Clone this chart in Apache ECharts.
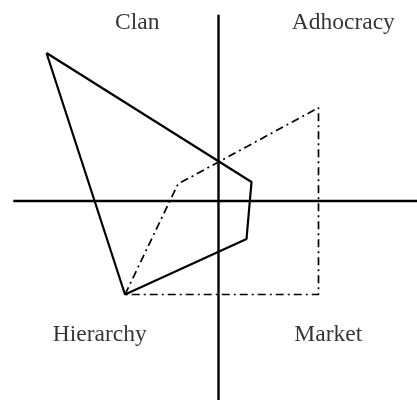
<!DOCTYPE html>
<html>
<head>
<meta charset="utf-8">
<script src="https://cdn.jsdelivr.net/npm/echarts@6/dist/echarts.min.js"></script>
<style>
  html, body { margin: 0; padding: 0; background: #fff; }
  #chartContainer { width: 417px; height: 400px; }
</style>
</head>
<body>
<div id="chartContainer"></div>
<script>
// quadrant names and where they sit
var quadrants = ['Clan', 'Adhocracy', 'Hierarchy', 'Market'];
var quadrantPos = [[-8.13, 17.8], [12.48, 17.8], [-11.88, -13.4], [10.98, -13.4]];

// the two profiles (closed shapes)
var solidProfile = [[-17.2, 14.8], [3.3, 1.9], [2.8, -3.8], [-9.35, -9.35], [-17.2, 14.8]];
var dashProfile = [[-9.35, -9.35], [-4.05, 1.7], [10.0, 9.33], [10.0, -9.35], [-9.35, -9.35]];

// the cross in the middle
var hAxisLine = [[-20.52, 0], [19.85, 0]];
var vAxisLine = [[0, 18.63], [0, -19.9]];

var chart = echarts.init(document.getElementById('chartContainer'));

var labelData = quadrants.map(function (name, i) {
    return { name: name, value: quadrantPos[i] };
});

chart.setOption({
    animation: false,
    grid: { left: 0, right: 0, top: 0, bottom: 0 },
    xAxis: { type: 'value', min: -21.85, max: 19.85, show: false },
    yAxis: { type: 'value', min: -19.9, max: 20.1, show: false },
    series: [
        {
            type: 'line', data: hAxisLine, symbol: 'none',
            lineStyle: { color: '#000', width: 2.4 }
        },
        {
            type: 'line', data: vAxisLine, symbol: 'none',
            lineStyle: { color: '#000', width: 2.4 }
        },
        {
            type: 'line', data: solidProfile, symbol: 'none',
            lineStyle: { color: '#000', width: 2.2 }
        },
        {
            type: 'line', data: dashProfile, symbol: 'none',
            lineStyle: { color: '#000', width: 1.7, type: [8, 4, 2, 4] }
        },
        {
            type: 'scatter', data: labelData, symbolSize: 0,
            label: {
                show: true,
                position: 'inside',
                formatter: '{b}',
                color: '#000',
                fontFamily: 'Liberation Serif',
                fontSize: 23.5
            }
        }
    ]
});
</script>
</body>
</html>
